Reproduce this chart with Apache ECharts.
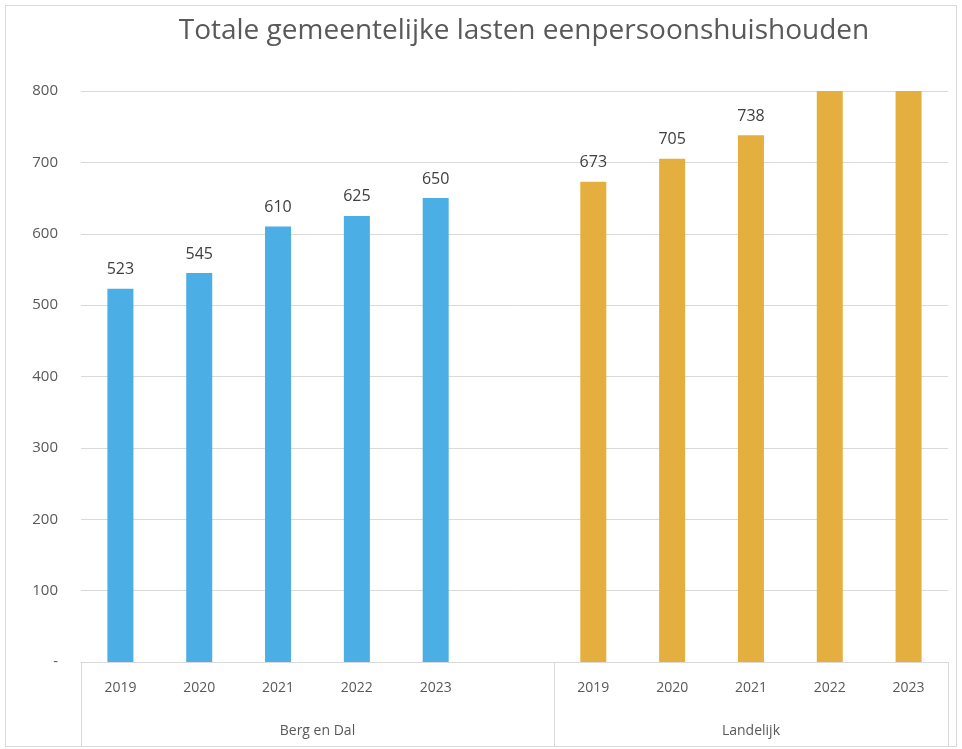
<!DOCTYPE html>
<html>
<head>
<meta charset="utf-8">
<script src="https://cdn.jsdelivr.net/npm/echarts@6/dist/echarts.min.js"></script>
<style>
  html, body { margin: 0; padding: 0; background: #fff; }
  #chart { width: 962px; height: 749px; }
  .frame { position: absolute; left: 5px; top: 5px; width: 952px; height: 742px; border: 1px solid #d9d9d9; box-sizing: border-box; pointer-events: none; }
</style>
</head>
<body>
<div id="chart"></div>
<div class="frame"></div>
<script>
// data
const groups = ['Berg en Dal', 'Landelijk']
const years = ['2019', '2020', '2021', '2022', '2023']
const bergEnDal = [523, 545, 610, 625, 650]
// 2022 and 2023 are cut off at the top of the axis, estimated
const landelijk = [673, 705, 738, 820, 860]

const AXIS_MAX = 800
const FONT = '"Open Sans", "Noto Sans", sans-serif'

// 11 slots: 5 years, an empty gap slot, 5 years
const categories = [...years, '', ...years]
const blueData = [...bergEnDal, null, null, null, null, null, null]
const goldData = [null, null, null, null, null, null, ...landelijk]

const chart = echarts.init(document.getElementById('chart'))

// labels of bars that run past the axis top are hidden, like in the original
const labelOpt = {
  show: true,
  position: 'top',
  distance: 11,
  color: '#404040',
  fontFamily: FONT,
  fontSize: 16,
  formatter: (p) => (p.value == null || p.value > AXIS_MAX) ? '' : String(p.value)
}

chart.setOption({
  animation: false,
  title: {
    text: 'Totale gemeentelijke lasten eenpersoonshuishouden',
    left: 519,
    top: 12,
    textAlign: 'center',
    textStyle: { color: '#595959', fontFamily: FONT, fontSize: 28, fontWeight: 'normal' }
  },
  grid: { left: 81, right: 14, top: 91, bottom: 87 },
  xAxis: [
    {
      type: 'category',
      data: categories,
      position: 'bottom',
      axisLine: { lineStyle: { color: '#d9d9d9' } },
      axisTick: { show: false },
      axisLabel: { color: '#595959', fontFamily: FONT, fontSize: 14, margin: 19 }
    },
    {
      // second level of the category axis (group names)
      type: 'value',
      min: 0,
      max: 11,
      position: 'bottom',
      axisLine: { show: false },
      splitLine: { show: false },
      axisTick: {
        show: true,
        customValues: [0, 6, 11],
        length: 84,
        lineStyle: { color: '#d9d9d9' }
      },
      axisLabel: {
        customValues: [3, 8.5],
        color: '#595959',
        fontFamily: FONT,
        fontSize: 14,
        margin: 62,
        formatter: (v) => v < 6 ? groups[0] : groups[1]
      }
    }
  ],
  yAxis: {
    type: 'value',
    min: 0,
    max: AXIS_MAX,
    interval: 100,
    axisLine: { show: false },
    axisTick: { show: false },
    splitLine: { lineStyle: { color: '#d9d9d9' } },
    axisLabel: {
      color: '#595959',
      fontFamily: FONT,
      fontSize: 15,
      margin: 23,
      formatter: (v) => v === 0 ? '-' : String(v)
    }
  },
  series: [
    {
      name: groups[0],
      type: 'bar',
      data: blueData,
      barWidth: 26,
      barGap: '-100%',
      itemStyle: { color: '#4BAEE5' },
      label: labelOpt
    },
    {
      name: groups[1],
      type: 'bar',
      data: goldData,
      barWidth: 26,
      clip: true,
      itemStyle: { color: '#E5AF3F' },
      label: labelOpt
    }
  ]
})
</script>
</body>
</html>
